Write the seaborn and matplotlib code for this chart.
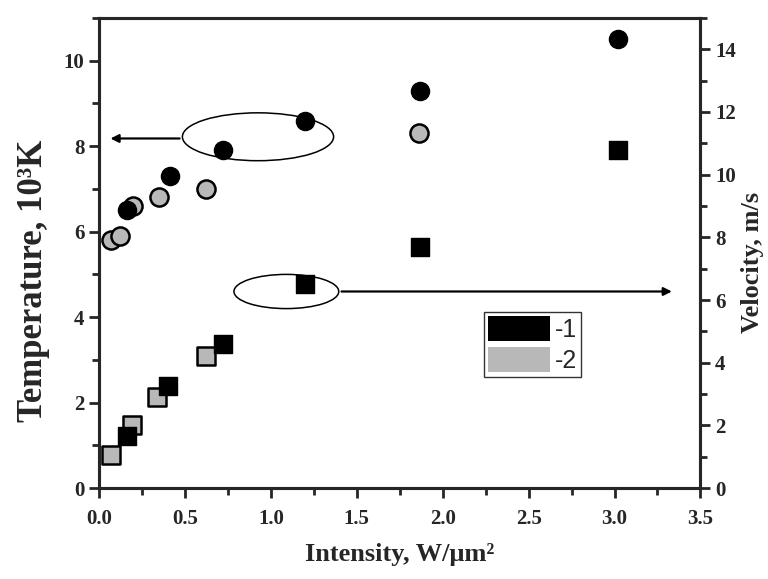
import matplotlib
matplotlib.use("Agg")
import matplotlib.pyplot as plt
from matplotlib.patches import Ellipse, Patch
from matplotlib.ticker import MultipleLocator
import seaborn as sns
import pandas as pd

# temperature (10^3 K), left axis
temp1_x = [0.16, 0.41, 0.72, 1.20, 1.87, 3.02]
temp1_y = [6.5, 7.3, 7.9, 8.6, 9.3, 10.5]
temp2_x = [0.07, 0.12, 0.20, 0.35, 0.62, 1.86]
temp2_y = [5.8, 5.9, 6.6, 6.8, 7.0, 8.3]

# velocity (m/s), right axis
vel1_x = [0.16, 0.40, 0.72, 1.20, 1.87, 3.02]
vel1_y = [1.65, 3.25, 4.6, 6.5, 7.7, 10.8]
vel2_x = [0.07, 0.19, 0.34, 0.62]
vel2_y = [1.05, 2.0, 2.9, 4.2]

legend_labels = ["-1", "-2"]

sns.set_style("ticks")
plt.rcParams["font.family"] = ["Liberation Serif", "DejaVu Serif"]
plt.rcParams["font.weight"] = "bold"

black = "#000000"
gray = "#b8b8b8"

fig = plt.figure(figsize=(7.68, 5.79), dpi=100)
ax = fig.add_axes([0.129, 0.157, 0.783, 0.812])
ax2 = ax.twinx()

t1 = pd.DataFrame({"x": temp1_x, "y": temp1_y})
t2 = pd.DataFrame({"x": temp2_x, "y": temp2_y})
v1 = pd.DataFrame({"x": vel1_x, "y": vel1_y})
v2 = pd.DataFrame({"x": vel2_x, "y": vel2_y})

sns.scatterplot(data=t2, x="x", y="y", ax=ax, marker="o", s=170, color=gray,
                edgecolor="black", linewidth=1.8, zorder=3)
sns.scatterplot(data=t1, x="x", y="y", ax=ax, marker="o", s=170, color=black,
                edgecolor="black", linewidth=1, zorder=4)
sns.scatterplot(data=v2, x="x", y="y", ax=ax2, marker="s", s=150, color=gray,
                edgecolor="black", linewidth=1.8, zorder=3)
sns.scatterplot(data=v1, x="x", y="y", ax=ax2, marker="s", s=150, color=black,
                edgecolor="black", linewidth=1, zorder=4)

ax.set_xlim(0, 3.5)
ax.set_ylim(0, 11)
ax2.set_ylim(0, 15)

ax.xaxis.set_major_locator(MultipleLocator(0.5))
ax.xaxis.set_minor_locator(MultipleLocator(0.25))
ax.yaxis.set_major_locator(MultipleLocator(2))
ax.yaxis.set_minor_locator(MultipleLocator(1))
ax2.yaxis.set_major_locator(MultipleLocator(2))
ax2.yaxis.set_minor_locator(MultipleLocator(1))

for a in (ax, ax2):
    for sp in a.spines.values():
        sp.set_linewidth(2.2)
        sp.set_visible(True)
    a.tick_params(which="major", length=7, width=2, labelsize=15, direction="out")
    a.tick_params(which="minor", length=5, width=2, direction="out")
ax.tick_params(axis="x", pad=8)

ax.set_xlabel("Intensity, W/\u03bcm\u00b2", fontsize=19, fontweight="bold")
ax.xaxis.set_label_coords(0.5, -0.117)
ax.set_ylabel("Temperature, 10\u00b3K", fontsize=25, fontweight="bold")
ax.yaxis.set_label_coords(-0.082, 0.44)
ax2.set_ylabel("Velocity, m/s", fontsize=19, fontweight="bold", rotation=90)
ax2.yaxis.set_label_coords(1.068, 0.48)

# annotations: ellipses with arrows pointing to axes
ax.add_patch(Ellipse((0.925, 8.22), 0.88, 1.12, fill=False, lw=1.1, ec="black", zorder=2))
ax.annotate("", xy=(0.05, 8.18), xytext=(0.485, 8.18),
            arrowprops=dict(arrowstyle="-|>", lw=1.6, color="black", mutation_scale=12))
ax.add_patch(Ellipse((1.09, 4.6), 0.61, 0.8, fill=False, lw=1.1, ec="black", zorder=2))
ax.annotate("", xy=(3.35, 4.6), xytext=(1.395, 4.6),
            arrowprops=dict(arrowstyle="-|>", lw=1.6, color="black", mutation_scale=12))

handles = [Patch(facecolor=black, edgecolor="none"), Patch(facecolor=gray, edgecolor="none")]
leg = ax.legend(handles, legend_labels, loc="upper left", bbox_to_anchor=(0.64, 0.374),
                borderaxespad=0, frameon=True, fancybox=False, edgecolor="black",
                handlelength=2.5, handleheight=1.15, handletextpad=0.2, labelspacing=0.2,
                borderpad=0.15, prop={"family": "Liberation Sans", "size": 18, "weight": "normal"})
leg.get_frame().set_linewidth(1.0)

fig.savefig("out.png", dpi=100)
